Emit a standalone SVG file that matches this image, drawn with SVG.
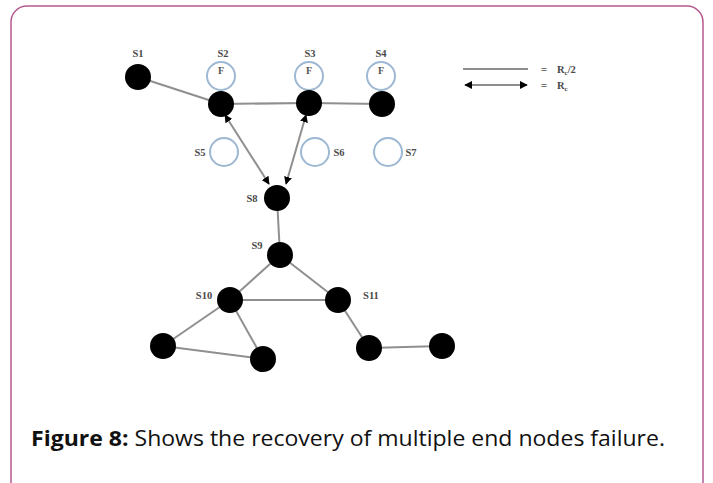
<svg xmlns="http://www.w3.org/2000/svg" width="713" height="483" viewBox="0 0 713 483">
  <defs>
    <style>
      .frame { fill: #ffffff; stroke: #b5588f; stroke-width: 1.5; }
      .node { fill: #000000; }
      .fail { fill: none; stroke: #9db8d2; stroke-width: 2; }
      .edge { stroke: #8f8f8f; stroke-width: 2; fill: none; }
      .lbl { font-family: "Liberation Serif", "DejaVu Serif", serif; font-size: 10.5px; font-weight: bold; fill: #4a4a4a; }
      .f { font-family: "Liberation Serif", "DejaVu Serif", serif; font-size: 10px; font-weight: bold; fill: #555555; }
      .cap { font-family: "Open Sans", "Noto Sans", sans-serif; font-size: 21px; fill: #111111; }
    </style>
    <marker id="ah" viewBox="0 0 10 10" refX="9" refY="5" markerWidth="4" markerHeight="4" orient="auto-start-reverse">
      <path d="M0,0 L10,5 L0,10 z" fill="#000000"/>
    </marker>
  </defs>

  <rect class="frame" x="11" y="6" width="692" height="500" rx="16"/>

  <!-- connectors -->
  <g id="edges">
    <line class="edge" x1="138" y1="77" x2="221" y2="104"/>
    <line class="edge" x1="221" y1="104" x2="309" y2="103"/>
    <line class="edge" x1="309" y1="103" x2="382" y2="104"/>
    <line class="edge" x1="225" y1="115" x2="269" y2="184" marker-start="url(#ah)" marker-end="url(#ah)"/>
    <line class="edge" x1="306" y1="115" x2="286" y2="184" marker-start="url(#ah)" marker-end="url(#ah)"/>
    <line class="edge" x1="277" y1="198" x2="280" y2="255"/>
    <line class="edge" x1="280" y1="255" x2="230" y2="300"/>
    <line class="edge" x1="280" y1="255" x2="338" y2="300"/>
    <line class="edge" x1="230" y1="300" x2="338" y2="300"/>
    <line class="edge" x1="230" y1="300" x2="163" y2="346"/>
    <line class="edge" x1="230" y1="300" x2="263" y2="359"/>
    <line class="edge" x1="163" y1="346" x2="263" y2="359"/>
    <line class="edge" x1="338" y1="300" x2="369" y2="348"/>
    <line class="edge" x1="369" y1="348" x2="442" y2="346"/>
  </g>

  <g id="S1"><circle class="node" cx="138" cy="77" r="13"/><text class="lbl" x="138" y="57" text-anchor="middle">S1</text></g>
  <g id="S2">
    <circle class="fail" cx="221" cy="76" r="14"/><text class="f" x="221" y="74" text-anchor="middle">F</text>
    <circle class="node" cx="221" cy="104" r="13"/><text class="lbl" x="223" y="57" text-anchor="middle">S2</text>
  </g>
  <g id="S3">
    <circle class="fail" cx="309" cy="76" r="14"/><text class="f" x="309" y="74" text-anchor="middle">F</text>
    <circle class="node" cx="309" cy="103" r="13"/><text class="lbl" x="310" y="57" text-anchor="middle">S3</text>
  </g>
  <g id="S4">
    <circle class="fail" cx="381" cy="76" r="14"/><text class="f" x="381" y="74" text-anchor="middle">F</text>
    <circle class="node" cx="382" cy="104" r="13"/><text class="lbl" x="381" y="57" text-anchor="middle">S4</text>
  </g>
  <g id="S5"><circle class="fail" cx="224" cy="152" r="14"/><text class="lbl" x="200" y="155.5" text-anchor="middle">S5</text></g>
  <g id="S6"><circle class="fail" cx="315" cy="152" r="14"/><text class="lbl" x="339" y="155.5" text-anchor="middle">S6</text></g>
  <g id="S7"><circle class="fail" cx="388" cy="152" r="14"/><text class="lbl" x="411" y="155.5" text-anchor="middle">S7</text></g>
  <g id="S8"><circle class="node" cx="277" cy="198" r="13"/><text class="lbl" x="252" y="202" text-anchor="middle">S8</text></g>
  <g id="S9"><circle class="node" cx="280" cy="255" r="13"/><text class="lbl" x="257" y="249" text-anchor="middle">S9</text></g>
  <g id="S10"><circle class="node" cx="230" cy="300" r="13"/><text class="lbl" x="204" y="299" text-anchor="middle">S10</text></g>
  <g id="S11"><circle class="node" cx="338" cy="300" r="13"/><text class="lbl" x="371" y="299" text-anchor="middle">S11</text></g>
  <g id="N12"><circle class="node" cx="163" cy="346" r="13"/></g>
  <g id="N13"><circle class="node" cx="263" cy="359" r="13"/></g>
  <g id="N14"><circle class="node" cx="369" cy="348" r="13"/></g>
  <g id="N15"><circle class="node" cx="442" cy="346" r="13"/></g>

  <!-- legend -->
  <g id="legend">
    <line class="edge" x1="463" y1="69" x2="528" y2="69"/>
    <text class="lbl" x="541" y="72.5">=</text>
    <text class="lbl" x="557" y="72.5">R<tspan font-size="7" dy="2">c</tspan><tspan dy="-2">/2</tspan></text>
    <line class="edge" x1="465" y1="85" x2="527" y2="85" marker-start="url(#ah)" marker-end="url(#ah)"/>
    <text class="lbl" x="541" y="88.5">=</text>
    <text class="lbl" x="557" y="88.5">R<tspan font-size="7" dy="2">c</tspan></text>
  </g>

  <text class="cap" x="31" y="446" textLength="634" lengthAdjust="spacingAndGlyphs"><tspan font-weight="bold">Figure 8:</tspan> Shows the recovery of multiple end nodes failure.</text>
</svg>
